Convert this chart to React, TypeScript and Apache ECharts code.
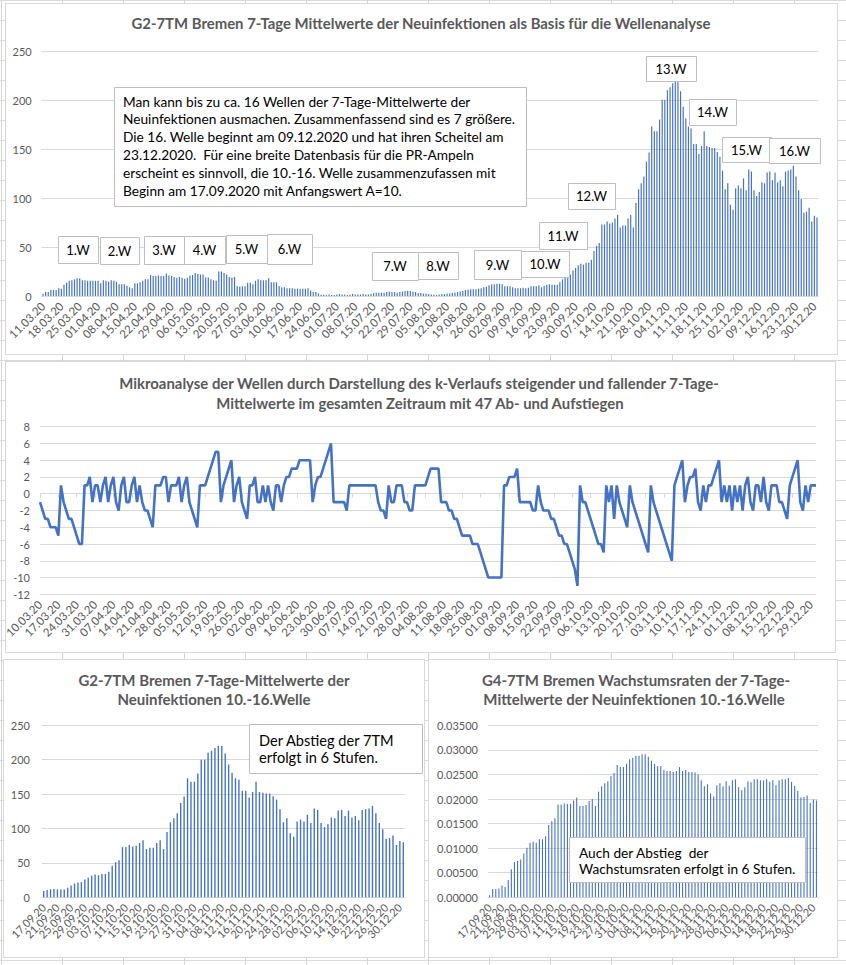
import React, { useEffect, useRef } from "react";
import * as echarts from "echarts";

const FONT = "Lato, 'Noto Sans', sans-serif";
const GRAY = "#595959";
const GRIDC = "#d9d9d9";
const BLUE = "#4472C4";

function makeDates(y: number, m: number, d: number, n: number): string[] {
  const out: string[] = [];
  const dt = new Date(Date.UTC(y, m - 1, d));
  for (let i = 0; i < n; i++) {
    const dd = String(dt.getUTCDate()).padStart(2, "0");
    const mm = String(dt.getUTCMonth() + 1).padStart(2, "0");
    const yy = String(dt.getUTCFullYear()).slice(2);
    out.push(`${dd}.${mm}.${yy}`);
    dt.setUTCDate(dt.getUTCDate() + 1);
  }
  return out;
}

// categories
const catTop = makeDates(2020, 3, 11, 296); // 11.03.20 .. 31.12.20
const catK = makeDates(2020, 3, 10, 297); // 10.03.20 .. 31.12.20
const catLate = makeDates(2020, 9, 17, 106); // 17.09.20 .. 31.12.20

// 7-day means 11.03.20 .. 16.09.20
const earlyCases = [
  2, 4, 4, 6, 6, 6, 8, 7.5, 11.5, 13.5,
  15.5, 16, 17, 18, 18, 16, 16, 15.5, 15.5, 15.5,
  15.5, 15.5, 13, 16, 15.5, 14.5, 16, 15.5, 14.5, 12,
  12, 12, 10.5, 9, 8, 13, 13, 14, 15.5, 17,
  17, 21.5, 20.5, 20.5, 21, 20.5, 20.5, 23, 21, 20.5,
  19.5, 18.5, 19.5, 18.5, 17.5, 18.5, 21, 21.5, 23.5, 22.5,
  22, 22, 19, 19, 17, 16, 15.5, 25, 25, 23.5,
  22, 19.5, 19, 19.5, 10, 9.5, 10, 10, 13.5, 13.5,
  12, 15.5, 17, 16, 16, 16, 18, 14, 14, 14,
  10, 9, 9, 8, 8, 8, 7.5, 7.5, 7.5, 7.5,
  7.5, 8, 5.5, 4, 4, 2.7, 1.3, 1.3, 1,
  1.5, 1, 1, 1.5, 2, 1.5, 1.5, 1, 1.5, 2, 1.5, 1.5, 1.5, 2, 1.5, 1.5, 2,
  2.7, 3.4, 3.4, 3.4, 3.4, 4, 4.4, 4, 4, 3.4, 4, 4.4, 5, 5.4, 5, 4.4, 4,
  3, 3, 2.5, 2.5, 2, 1.5, 1.5, 1, 1.5, 2, 2,
  2.5, 2.5, 3, 3.5, 4, 4.5, 5, 6, 6.5, 7, 7, 7,
  7.5, 8, 9, 9.5, 11, 12, 12, 12.5, 12.5, 12,
  10, 10, 10, 9, 8, 8, 8, 8.5, 8, 8.5, 10, 10, 10, 11,
];

// 7-day means 17.09.20 .. 31.12.20 (waves 10-16)
const lateCases = [
  9, 10.5, 11.5, 12, 11.5, 11.5, 11.5, 14, 17, 20,
  21.5, 22, 26, 28.5, 31.5, 33, 32, 34, 34, 37,
  46, 51, 54, 73, 73, 76, 74, 75, 79, 83,
  70, 72, 72, 79, 83, 70, 95, 109, 115, 122,
  137, 146.5, 173, 168, 168, 180, 200, 200, 210, 213,
  217, 220, 220, 209, 193, 181, 173, 171, 155, 155,
  145, 153, 168, 153, 152, 151, 151, 147, 142, 128,
  109, 115, 93, 88, 110, 113, 110, 120, 108, 129,
  127, 108, 102, 106, 116, 115, 126, 127, 118, 126,
  116, 118, 112, 127, 128, 129, 133, 122, 108, 99,
  85, 86, 90, 76, 82, 80,
];

const topCases = [...earlyCases, ...lateCases];

// k values 10.03.20 .. 31.12.20
const kValues = [
  -1, -2, -3, -3, -4, -4, -4, -5, 1, -1,
  -2, -3, -3, -4, -5, -6, -6, 1, 1, 2,
  -1, 1, 1, -1, 1, 2, -1, 1, 2, -1,
  -2, 1, 2, -1, -1, 1, 2, -1, 1, -1,
  -2, -2, -3, -4, 1, 1, 1, 2, 2, -1,
  1, 1, 1, 2, -1, 1, 2, -1, -2, -3,
  -4, 1, 1, 1, 2, 3, 4, 5, 5, -1,
  1, 2, 3, 4, -1, 1, 2, -1, -2, -3,
  1, 1, 2, -1, -1, 1, -1, 1, -1, -2,
  1, 1, -1, 1, 2, 2, 3, 3, 3, 4,
  4, 4, 4, 4, -1, 1, 2, 2, 3, 4,
  5, 6, -1, -1, -1, -1, -1, -2, 1, 1,
  1, 1, 1, 1, 1, 1, 1, 1, 1, -1,
  -2, -2, -3, 1, -1, -1, 1, 1, 1, -1,
  -1, -2, -2, 1, 1, 1, 1,
  1, 2, 3, 3, 3, 3, -1, -1, -1, -2,
  -2, -3, -3, -4, -5, -5, -5, -5, -6, -6,
  -6, -7, -8, -9, -10, -10, -10, -10, -10, -10,
  1, 1, 2, 2, 2, 3, -1, -1, -1, -1,
  -1, -2, -2, 1, -1, -2, -2, -2, -3, -3,
  -4, -5, -5, -6, -6, -7, -8, -9, -11, 1,
  -1, -1, -2, -3, -4, -5, -6, -6, -7, 1,
  -1, 1, -3, 1, -1, -2, -3, -4, 1, -1,
  -2, -3, -4, -5, -6, -7, 1, -1, -2, -3,
  -4, -5, -6, -7, -8, 1, 2, 3, 4, -1,
  1, 2, 2, 3, -1, -2, 1, -1, 1, 1,
  2, 3, 4, -1, 1, -1, 1, -2, 1, -1,
  1, -2, 1, 2, -1, -2, 1, 1, -1, 2,
  -1, -2, 1, 1, 1, -1, -1, -2, -3, 1,
  2, 3, 4, -1, -2, 1, -1, 1, 1, 1,
];

// growth rates 17.09.20 .. 31.12.20
const growthRates = [
  0.0004, 0.0017, 0.0017, 0.0018, 0.0024, 0.0021, 0.0035, 0.0057, 0.0072, 0.0074,
  0.0077, 0.0089, 0.0101, 0.0111, 0.0113, 0.0111, 0.0118, 0.0118, 0.0124, 0.0147,
  0.0155, 0.0161,
  0.0189, 0.0189, 0.0191, 0.019, 0.019, 0.0197, 0.0203, 0.0186, 0.0186, 0.0188,
  0.0196, 0.02, 0.0186, 0.0215, 0.0226, 0.0232, 0.0236, 0.0247, 0.0253, 0.0269,
  0.0265, 0.0265, 0.0272, 0.0281, 0.0284, 0.0288, 0.0288, 0.0291, 0.0291, 0.0286,
  0.0278, 0.0272, 0.0267, 0.0267, 0.0259, 0.0257, 0.0257, 0.0255, 0.0257, 0.0265,
  0.0257, 0.0259, 0.0255, 0.0255, 0.0254, 0.025, 0.0238, 0.0226, 0.023, 0.0211,
  0.0205, 0.0228, 0.0232, 0.0226, 0.0236, 0.0227, 0.0238, 0.024, 0.0224, 0.0218,
  0.0224, 0.0236, 0.0234, 0.024, 0.024, 0.0238, 0.0238, 0.024, 0.0235, 0.0238,
  0.0228, 0.0238, 0.024, 0.024, 0.0242, 0.0235, 0.0227, 0.0217, 0.0203, 0.0204,
  0.0207, 0.0192, 0.0199, 0.0197,
];

// tick settings of y axes
const yTopTicks = { min: 0, max: 250, interval: 50 };
const yKTicks = { min: -12, max: 8, interval: 2 };
const yGrowthTicks = { min: 0, max: 0.035, interval: 0.005 };

// annotation boxes (label, x, y, w, h)
const waveBoxes: [string, number, number, number, number][] = [
  ["1.W", 58, 236, 40, 27],
  ["2.W", 100, 237, 39, 27],
  ["3.W", 144, 236, 40, 28],
  ["4.W", 184, 236, 41, 28],
  ["5.W", 226, 235, 41, 28],
  ["6.W", 267, 234, 45, 30],
  ["7.W", 372, 252, 46, 28],
  ["8.W", 418, 252, 40, 27],
  ["9.W", 474, 250, 47, 29],
  ["10.W", 521, 251, 48, 26],
  ["11.W", 539, 222, 48, 27],
  ["12.W", 568, 183, 47, 26],
  ["13.W", 646, 56, 50, 25],
  ["14.W", 689, 99, 47, 26],
  ["15.W", 722, 137, 49, 25],
  ["16.W", 769, 138, 51, 25],
];

const infoLines = [
  "Man kann bis zu ca. 16 Wellen der 7-Tage-Mittelwerte der",
  "Neuinfektionen ausmachen. Zusammenfassend sind es 7 größere.",
  "Die 16. Welle beginnt am 09.12.2020 und hat ihren Scheitel am",
  "23.12.2020.  Für eine breite Datenbasis für die PR-Ampeln",
  "erscheint es sinnvoll, die 10.-16. Welle zusammenzufassen mit",
  "Beginn am 17.09.2020 mit Anfangswert A=10.",
];

const panels: [number, number, number, number][] = [
  [5, 3, 833, 352],
  [5, 361, 831, 292],
  [3, 659, 422, 299],
  [428, 659, 410, 299],
];

function txt(text: string, x: number, y: number, size: number, opts: any = {}) {
  return {
    type: "text",
    x,
    y,
    z: 101,
    silent: true,
    style: {
      text,
      fill: opts.fill || "#000",
      fontSize: size,
      fontFamily: FONT,
      fontWeight: opts.bold ? "bold" : "normal",
      align: opts.align || "left",
      verticalAlign: "middle",
      textAlign: opts.align || "left",
      textVerticalAlign: "middle",
    },
  };
}

function box(x: number, y: number, w: number, h: number) {
  return {
    type: "rect",
    z: 100,
    silent: true,
    shape: { x: x + 0.5, y: y + 0.5, width: w, height: h },
    style: { fill: "#fff", stroke: "#bfbfbf", lineWidth: 1 },
  };
}

// every `step`-th category gets a label; all others stay empty
function catAxis(gridIndex: number, data: string[], step: number, fontSize: number, extra: any = {}) {
  return {
    type: "category",
    gridIndex,
    data,
    axisLine: { show: true, lineStyle: { color: GRIDC } },
    axisTick: { show: false },
    axisLabel: {
      interval: 0,
      formatter: (v: string, i: number) => (i % step === 0 ? v : ""),
      rotate: 45,
      fontSize,
      fontFamily: FONT,
      color: GRAY,
      margin: 8,
      hideOverlap: false,
    },
    splitLine: { show: false },
    ...extra,
  };
}

function valAxis(gridIndex: number, t: any, extra: any = {}) {
  return {
    type: "value",
    gridIndex,
    min: t.min,
    max: t.max,
    interval: t.interval,
    axisLine: { show: false },
    axisTick: { show: false },
    splitLine: { lineStyle: { color: GRIDC } },
    axisLabel: { fontSize: 11, fontFamily: FONT, color: GRAY, margin: 10, ...(extra.axisLabel || {}) },
  };
}

function buildOption() {
  const graphics: any[] = [];
  graphics.push(
    txt("G2-7TM Bremen 7-Tage Mittelwerte der Neuinfektionen als Basis für die Wellenanalyse", 421, 23, 14.9, { bold: true, fill: GRAY, align: "center" })
  );
  graphics.push(
    txt("Mikroanalyse der Wellen durch Darstellung des k-Verlaufs steigender und fallender 7-Tage-", 419, 383, 14.9, { bold: true, fill: GRAY, align: "center" })
  );
  graphics.push(
    txt("Mittelwerte im gesamten Zeitraum mit 47 Ab- und Aufstiegen", 420, 403, 14.9, { bold: true, fill: GRAY, align: "center" })
  );
  graphics.push(txt("G2-7TM Bremen 7-Tage-Mittelwerte der", 214, 680, 15, { bold: true, fill: GRAY, align: "center" }));
  graphics.push(txt("Neuinfektionen 10.-16.Welle", 214, 699, 15, { bold: true, fill: GRAY, align: "center" }));
  graphics.push(txt("G4-7TM Bremen Wachstumsraten der 7-Tage-", 636, 680, 15, { bold: true, fill: GRAY, align: "center" }));
  graphics.push(txt("Mittelwerte der Neuinfektionen 10.-16.Welle", 634, 699, 15, { bold: true, fill: GRAY, align: "center" }));

  // info box panel 1
  graphics.push(box(114, 87, 412, 119));
  infoLines.forEach((l, i) => graphics.push(txt(l, 123, 101 + i * 17.8, 13.7)));

  // wave boxes
  waveBoxes.forEach(([label, x, y, w, h]) => {
    graphics.push(box(x, y, w, h));
    graphics.push(txt(label, x + w / 2, y + h / 2, 13, { align: "center" }));
  });

  // panel 3 box
  graphics.push(box(249, 724, 173, 49));
  graphics.push(txt("Der Abstieg der 7TM", 259, 740, 14.6));
  graphics.push(txt("erfolgt in 6 Stufen.", 259, 757, 14.6));

  // panel 4 box
  graphics.push(box(569, 837, 236, 45));
  graphics.push(txt("Auch der Abstieg  der", 579, 852, 13.7));
  graphics.push(txt("Wachstumsraten erfolgt in 6 Stufen.", 579, 868.5, 13.7));

  return {
    animation: false,
    textStyle: { fontFamily: FONT },
    grid: [
      { left: 41.7, top: 51, width: 776.6, height: 245 },
      { left: 40, top: 426.7, width: 776, height: 167.6 },
      { left: 42, top: 725.3, width: 363, height: 172 },
      { left: 488, top: 725.3, width: 330, height: 172 },
    ],
    xAxis: [
      catAxis(0, catTop, 7, 11.5),
      catAxis(1, catK, 7, 11.5, { boundaryGap: false, position: "bottom", axisLine: { show: false, onZero: false } }),
      {
        type: "category",
        gridIndex: 1,
        data: catK,
        boundaryGap: false,
        position: "top",
        axisLine: { show: true, onZero: true, lineStyle: { color: GRIDC } },
        axisTick: { show: true, inside: true, interval: 6, length: 4, lineStyle: { color: GRIDC } },
        axisLabel: { show: false },
        splitLine: { show: false },
      },
      catAxis(2, catLate, 4, 11),
      catAxis(3, catLate, 4, 11),
    ],
    yAxis: [
      valAxis(0, yTopTicks),
      valAxis(1, yKTicks),
      valAxis(2, yTopTicks, { axisLabel: { margin: 12 } }),
      valAxis(3, yGrowthTicks, { axisLabel: { formatter: (v: number) => v.toFixed(5) } }),
    ],
    series: [
      {
        type: "bar",
        xAxisIndex: 0,
        yAxisIndex: 0,
        data: topCases,
        barWidth: "45%",
        itemStyle: { color: BLUE },
        silent: true,
      },
      {
        type: "line",
        xAxisIndex: 1,
        yAxisIndex: 1,
        data: kValues,
        symbol: "none",
        lineStyle: { color: BLUE, width: 2.6 },
        silent: true,
      },
      {
        type: "bar",
        xAxisIndex: 3,
        yAxisIndex: 2,
        data: lateCases,
        barWidth: "40%",
        itemStyle: { color: BLUE },
        silent: true,
      },
      {
        type: "bar",
        xAxisIndex: 4,
        yAxisIndex: 3,
        data: growthRates,
        barWidth: "35%",
        itemStyle: { color: BLUE },
        silent: true,
      },
    ],
    graphic: { elements: graphics },
  };
}

export default function App() {
  const ref = useRef<HTMLDivElement>(null);
  useEffect(() => {
    if (!ref.current) return;
    const chart = echarts.init(ref.current, null, { renderer: "svg" });
    chart.setOption(buildOption() as any);
    return () => chart.dispose();
  }, []);
  return (
    <div
      style={{
        position: "absolute",
        left: 0,
        top: 0,
        width: 846,
        height: 965,
        overflow: "hidden",
        backgroundColor: "#fff",
        backgroundImage:
          "linear-gradient(to right, #d4d4d4 1px, transparent 1px), linear-gradient(to bottom, #dadada 1px, transparent 1px)",
        backgroundSize: "61px 20px",
        backgroundPosition: "1px 0px",
      }}
    >
      {panels.map((p, i) => (
        <div
          key={i}
          style={{
            position: "absolute",
            left: p[0],
            top: p[1],
            width: p[2],
            height: p[3],
            background: "#fff",
            border: "1px solid #d9d9d9",
            boxSizing: "border-box",
          }}
        />
      ))}
      <div ref={ref} style={{ position: "absolute", left: 0, top: 0, width: 846, height: 965 }} />
    </div>
  );
}
